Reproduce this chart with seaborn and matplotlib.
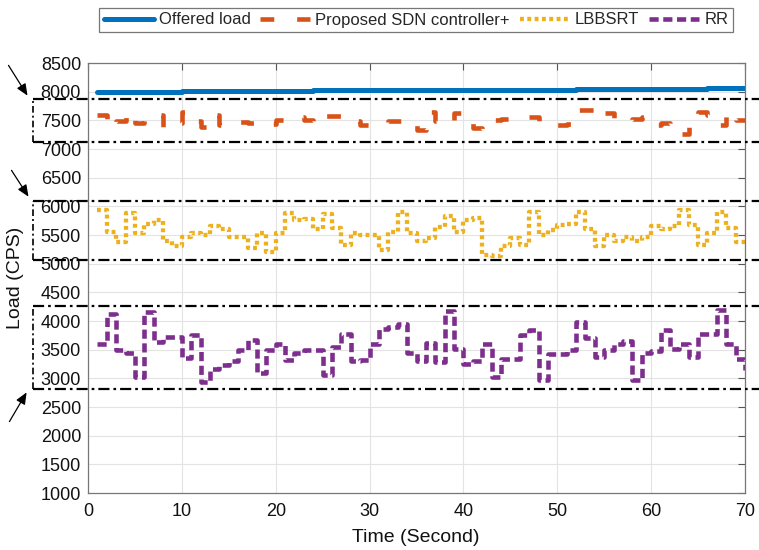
import numpy as np
import pandas as pd
import matplotlib
matplotlib.use("Agg")
import matplotlib.pyplot as plt
import matplotlib.transforms as mtransforms
from matplotlib.lines import Line2D
import seaborn as sns

# ---------------- data ----------------
time = list(range(1, 71))

offered_t = [1, 10, 10, 24, 24, 38, 38, 52, 52, 66, 66, 70]
offered_v = [8000, 8000, 8012, 8012, 8024, 8024, 8036, 8036, 8048, 8048, 8060, 8060]

proposed = [7590, 7380, 7480, 7650, 7450, 7580, 7590, 7390, 7450, 7650,
            7480, 7380, 7600, 7420, 7470, 7470, 7450, 7420, 7440, 7500,
            7540, 7560, 7500, 7450, 7570, 7580, 7560, 7480, 7420, 7430,
            7440, 7480, 7490, 7500, 7330, 7650, 7480, 7460, 7620, 7450,
            7360, 7350, 7500, 7520, 7520, 7560, 7560, 7480, 7440, 7420,
            7440, 7680, 7680, 7560, 7620, 7480, 7480, 7520, 7560, 7410,
            7450, 7330, 7270, 7500, 7650, 7600, 7420, 7650, 7500, 7500]

lbbsrt = [5940, 5560, 5380, 5880, 5530, 5700, 5760, 5400, 5310, 5460,
          5530, 5500, 5650, 5600, 5470, 5470, 5280, 5530, 5200, 5530,
          5880, 5760, 5780, 5600, 5870, 5620, 5330, 5530, 5500, 5500,
          5240, 5560, 5900, 5530, 5400, 5450, 5640, 5830, 5560, 5760,
          5790, 5150, 5130, 5300, 5450, 5330, 5900, 5500, 5580, 5680,
          5700, 5900, 5600, 5300, 5500, 5400, 5470, 5400, 5470, 5650,
          5600, 5650, 5940, 5680, 5330, 5530, 5900, 5620, 5380, 5380]

rr = [3605, 4130, 3500, 3450, 3020, 4150, 3640, 3720, 3720, 3350,
      3750, 2930, 3170, 3230, 3310, 3490, 3660, 3100, 3490, 3600,
      3320, 3450, 3500, 3490, 3050, 3550, 3780, 3300, 3320, 3600,
      3860, 3900, 3950, 3450, 3300, 3620, 3280, 4180, 3520, 3250,
      3300, 3600, 3030, 3330, 3330, 3750, 3840, 2970, 3430, 3430,
      3490, 3980, 3700, 3370, 3490, 3600, 3650, 2970, 3440, 3480,
      3850, 3520, 3600, 3370, 3770, 3770, 4190, 3600, 3340, 3140]

labels = ["Offered load", "Proposed SDN controller+", "LBBSRT", "RR"]
colors = ["#0072BD", "#D95319", "#EDB120", "#7E2F8E"]

x_ticks = list(range(0, 71, 10))
y_ticks = list(range(1000, 8501, 500))

# zoom boxes (value ranges)
boxes = [(7128, 7872), (5065, 6099), (2809, 4262)]

# ---------------- style ----------------
sns.set_theme(style="white")
plt.rcParams["font.family"] = ["Liberation Sans", "DejaVu Sans"]

W, H = 759, 550
fig = plt.figure(figsize=(W / 100, H / 100), dpi=100)
ax = fig.add_axes([88 / W, 1 - 493 / H, (745 - 88) / W, (493 - 63) / H])

df_off = pd.DataFrame({"t": offered_t, "v": offered_v})
sns.lineplot(data=df_off, x="t", y="v", ax=ax, color=colors[0], lw=3.6,
             label=labels[0], sort=False, estimator=None)

df = pd.DataFrame({"t": time, "p": proposed, "l": lbbsrt, "r": rr})
sns.lineplot(data=df, x="t", y="p", ax=ax, color=colors[1], lw=3.3,
             linestyle=(0, (3.0, 5.0)), drawstyle="steps-post",
             label=labels[1], estimator=None)
sns.lineplot(data=df, x="t", y="l", ax=ax, color=colors[2], lw=3.1,
             linestyle=(0, (0.9, 0.8)), drawstyle="steps-post",
             label=labels[2], estimator=None)
sns.lineplot(data=df, x="t", y="r", ax=ax, color=colors[3], lw=3.3,
             linestyle=(0, (2.0, 1.0)), drawstyle="steps-post",
             label=labels[3], estimator=None)

ax.set_xlim(0, 70)
ax.set_ylim(1000, 8500)
ax.set_xticks(x_ticks)
ax.set_yticks(y_ticks)
ax.tick_params(direction="in", top=True, right=True, labelsize=13,
               length=5, width=0.8, color="#555555", labelcolor="#111111")
ax.tick_params(axis="x", pad=7)
ax.tick_params(axis="y", pad=5)
ax.grid(True, color="#e3e3e3", lw=0.8)
for s in ax.spines.values():
    s.set_color("#777777")
    s.set_linewidth(0.9)
ax.set_xlabel("Time (Second)", fontsize=14, color="#111111")
ax.set_ylabel("Load (CPS)", fontsize=14, color="#111111")
ax.xaxis.set_label_coords((416 - 88) / (745 - 88), -(538 - 493) / (493 - 63), transform=ax.transAxes)
ax.yaxis.set_label_coords(-(88 - 16) / (745 - 88), 0.5, transform=ax.transAxes)
ax.xaxis.label.set_va("center")
ax.yaxis.label.set_va("center")

# legend
if ax.get_legend():
    ax.get_legend().remove()
handles, labs = ax.get_legend_handles_labels()
leg = fig.legend(handles, labs, loc="center", bbox_to_anchor=(416 / W, 1 - 20 / H),
                 ncol=4, fontsize=12, frameon=True, fancybox=False,
                 edgecolor="#555555", handlelength=3.0, handletextpad=0.3,
                 columnspacing=0.6, borderpad=0.25, borderaxespad=0)
leg.get_frame().set_linewidth(0.9)

# dash-dot zoom boxes
trans = mtransforms.blended_transform_factory(fig.transFigure, ax.transData)
x0 = 33 / W
for lo, hi in boxes:
    for yv in (lo, hi):
        fig.add_artist(Line2D([x0, 1.0], [yv, yv], transform=trans, color="black",
                              lw=1.6, linestyle=(0, (5, 1.8, 1.2, 1.8)), clip_on=False))
    fig.add_artist(Line2D([x0, x0], [lo, hi], transform=trans, color="black",
                          lw=1.2, linestyle=(0, (4, 1.8, 1.2, 1.8)), clip_on=False))

# arrows (figure pixel positions)
arrows = [((7, 63), (29, 98)), ((10, 168), (30, 199)), ((8, 424), (28, 390))]
for (tx, ty), (hx, hy) in arrows:
    fig.add_artist(matplotlib.patches.FancyArrowPatch(
        (tx / W, 1 - ty / H), (hx / W, 1 - hy / H), transform=fig.transFigure,
        arrowstyle="-|>,head_length=7,head_width=3", mutation_scale=1,
        color="black", lw=0.9))

fig.savefig("out.png", dpi=100)
